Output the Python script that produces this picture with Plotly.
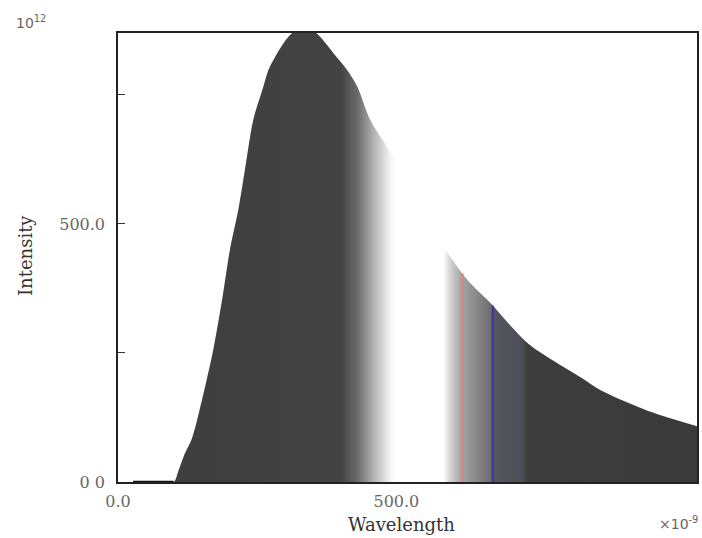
import plotly.graph_objects as go

# Data (wavelength in 1e-9 m, intensity in 1e12)
wavelength = [27, 60, 100, 108, 120, 133, 151, 171, 187, 201, 216, 228, 243, 261, 270,
              286, 309, 335, 360, 387, 412, 430, 453, 489, 511, 550, 592, 628, 669,
              736, 831, 867, 957, 1040]
intensity = [0, 0, 0, 20, 55, 85, 160, 256, 353, 450, 527, 605, 702, 766, 798,
             831, 866, 885, 866, 831, 798, 766, 702, 640, 600, 515, 444, 391, 347,
             269, 203, 178, 136, 108]

# vertical marker lines
line_wavelengths = [619, 673]
line_heights = [404, 342]
line_colors = ["#e08080", "#3535a8"]

x_ticks = [0, 500]
x_ticktext = ["0.0", "500.0"]
y_ticks = [0, 500]
y_ticktext = ["0 0", "500.0"]
y_minor_ticks = [250, 750]

XMAX = 1040
YMAX = 870

def stop(nm):
    return nm / XMAX

grad = [
    [stop(0), "#3d3d3d"],
    [stop(400), "#434343"],
    [stop(430), "#6a6a6a"],
    [stop(460), "#b4b4b4"],
    [stop(490), "#f6f6f6"],
    [stop(500), "#ffffff"],
    [stop(585), "#ffffff"],
    [stop(596), "#d6d6d6"],
    [stop(615), "#a8a8a8"],
    [stop(645), "#888888"],
    [stop(670), "#6c6c6c"],
    [stop(676), "#56565f"],
    [stop(725), "#4e4e58"],
    [stop(736), "#3d3d3d"],
    [1.0, "#3a3a3a"],
]

fig = go.Figure()

fig.add_trace(go.Scatter(
    x=wavelength, y=intensity, mode="lines",
    line=dict(width=0, shape="spline", smoothing=0.8),
    fill="tozeroy",
    fillgradient=dict(type="horizontal", colorscale=grad, start=0, stop=XMAX),
    hoverinfo="skip", showlegend=False,
))

# baseline segment where intensity is zero
zx = [w for w, v in zip(wavelength, intensity) if v == 0]
zy = [0 for _ in zx]
fig.add_trace(go.Scatter(x=zx, y=zy, mode="lines",
                         line=dict(color="#111111", width=2.5),
                         showlegend=False, hoverinfo="skip"))

for w, h, c in zip(line_wavelengths, line_heights, line_colors):
    fig.add_trace(go.Scatter(x=[w, w], y=[0, h], mode="lines",
                             line=dict(color=c, width=2),
                             showlegend=False, hoverinfo="skip"))

tick_font = dict(family="DejaVu Serif", size=16, color="#666666")

fig.update_layout(
    width=702, height=538,
    margin=dict(l=118, r=5, t=33, b=56),
    paper_bgcolor="white", plot_bgcolor="white",
    showlegend=False,
    xaxis=dict(range=[0, XMAX], tickvals=x_ticks, ticktext=x_ticktext,
               ticks="", showgrid=False, zeroline=False,
               showline=True, mirror=True, linecolor="#222222", linewidth=1.5,
               tickfont=tick_font, ticklabelstandoff=4, automargin=False),
    yaxis=dict(range=[0, YMAX], tickvals=y_ticks, ticktext=y_ticktext,
               ticks="inside", ticklen=7, tickcolor="#333333",
               minor=dict(tickvals=y_minor_ticks, ticks="inside", ticklen=7,
                          tickcolor="#333333"),
               showgrid=False, zeroline=False,
               showline=True, mirror=True, linecolor="#222222", linewidth=1.5,
               tickfont=tick_font, ticklabelstandoff=8, automargin=False),
    annotations=[
        dict(text="Intensity", xref="paper", yref="paper", x=-0.161, y=0.505,
             xanchor="center", yanchor="middle",
             showarrow=False, textangle=-90,
             font=dict(family="DejaVu Serif", size=18, color="#333333")),
        dict(text="Wavelength", xref="paper", yref="paper", x=0.489, y=-0.094,
             xanchor="center", yanchor="middle", showarrow=False,
             font=dict(family="DejaVu Serif", size=18, color="#333333")),
        dict(text="×10<sup>-9</sup>", xref="paper", yref="paper", x=1.005, y=-0.092,
             xanchor="right", yanchor="middle", showarrow=False,
             font=dict(family="DejaVu Sans", size=14, color="#666666")),
        dict(text="10<sup>12</sup>", xref="paper", yref="paper", x=-0.150, y=1.024,
             xanchor="center", yanchor="middle", showarrow=False,
             font=dict(family="DejaVu Sans", size=14, color="#666666")),
    ],
)

fig.write_html(
    "out.html",
    config={"displayModeBar": False},
    post_script="document.body.style.margin='0';document.body.style.overflow='hidden';",
)
